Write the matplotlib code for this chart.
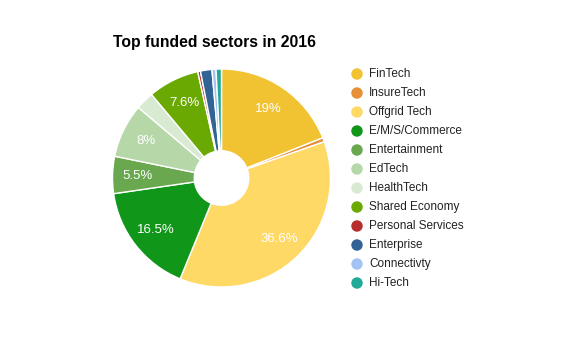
import matplotlib
matplotlib.use("Agg")
import matplotlib.pyplot as plt
import numpy as np

plt.rcParams['font.family'] = ['Liberation Sans', 'DejaVu Sans']

# datos del grafico
sectors = ['FinTech', 'InsureTech', 'Offgrid Tech', 'E/M/S/Commerce', 'Entertainment',
           'EdTech', 'HealthTech', 'Shared Economy', 'Personal Services', 'Enterprise',
           'Connectivty', 'Hi-Tech']
shares = [19, 0.6, 36.6, 16.5, 5.5, 8, 2.7, 7.6, 0.4, 1.7, 0.6, 0.8]
colors = ['#f1c232', '#e69138', '#ffd966', '#109618', '#6aa84f', '#b6d7a8',
          '#d9ead3', '#6aa802', '#b82e2e', '#316395', '#a4c2f4', '#22aa99']

W, H = 578, 357
fig = plt.figure(figsize=(W / 100, H / 100), dpi=100)

# pie: centro (221,178), radio 109 px
cx, cy, r = 221.5, 178, 109
ax = fig.add_axes([(cx - r) / W, (H - cy - r) / H, 2 * r / W, 2 * r / H])
wedges, _ = ax.pie(shares, colors=colors, startangle=90, counterclock=False,
                   radius=1, wedgeprops=dict(width=0.75, edgecolor='white', linewidth=1))
ax.set_xlim(-1, 1)
ax.set_ylim(-1, 1)
ax.set_aspect('equal')
ax.axis('off')

# etiquetas de porcentaje solo para los sectores grandes
total = sum(shares)
acc = 0
for v in shares:
    mid = (acc + v / 2) / total * 2 * np.pi
    acc += v
    if v >= 5:
        ax.text(0.77 * np.sin(mid), 0.77 * np.cos(mid), f"{v:g}%", color='white',
                fontsize=9.5, ha='center', va='center')

# capa en pixeles para titulo y leyenda
ov = fig.add_axes([0, 0, 1, 1])
ov.set_xlim(0, W)
ov.set_ylim(H, 0)
ov.axis('off')
ov.patch.set_alpha(0)

ov.text(113, 43, 'Top funded sectors in 2016', fontsize=11.3, fontweight='bold',
        ha='left', va='center')

for i, (name, c) in enumerate(zip(sectors, colors)):
    y = 74 + i * 19
    ov.scatter(357, y, s=68, color=c, edgecolors='none')
    ov.text(369, y, name, fontsize=8.5, color='#222222', ha='left', va='center')

fig.savefig('out.png', dpi=100)
